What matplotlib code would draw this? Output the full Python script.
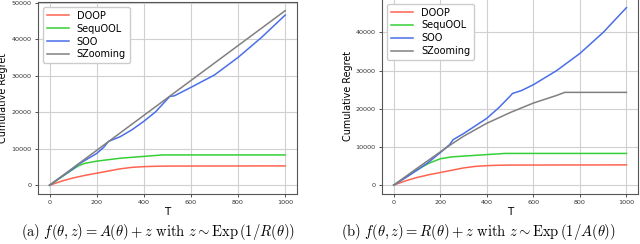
import matplotlib
matplotlib.use("Agg")
import matplotlib.pyplot as plt

plt.rcParams['mathtext.fontset'] = 'cm'

# Panel (a)
a_doop_t = [0, 50, 100, 150, 200, 250, 300, 350, 400, 450, 500, 1000]
a_doop_v = [0, 1100, 2000, 2700, 3300, 3900, 4500, 4900, 5100, 5200, 5250, 5300]
a_seq_t = [0, 50, 100, 125, 150, 200, 250, 300, 400, 480, 1000]
a_seq_v = [0, 2200, 4400, 5400, 6000, 6600, 7000, 7400, 7900, 8300, 8300]
a_soo_t = [0, 50, 100, 125, 150, 200, 230, 250, 300, 350, 400, 450, 500, 510, 530, 600, 700, 800, 900, 1000]
a_soo_v = [0, 2300, 4500, 5800, 6800, 8700, 10400, 12000, 13300, 15200, 17500, 20100, 23600, 24300, 24500, 26800, 30200, 35000, 40500, 46600]
a_sz_t = [0, 1000]
a_sz_v = [0, 47800]

# Panel (b)
b_doop_t = [0, 50, 100, 150, 200, 250, 300, 350, 400, 450, 500, 1000]
b_doop_v = [0, 1100, 2000, 2700, 3300, 3900, 4500, 4900, 5100, 5200, 5250, 5300]
b_seq_t = [0, 50, 100, 150, 200, 250, 300, 400, 480, 1000]
b_seq_v = [0, 2000, 4000, 5700, 6900, 7400, 7600, 8000, 8300, 8300]
b_soo_t = [0, 50, 100, 150, 200, 240, 255, 300, 400, 450, 500, 510, 550, 600, 700, 800, 900, 1000]
b_soo_v = [0, 1900, 3900, 6000, 8500, 10600, 11900, 13500, 17500, 20200, 23300, 24000, 24800, 26300, 30000, 34500, 40000, 46500]
b_sz_t = [0, 100, 200, 250, 300, 400, 500, 600, 700, 735, 1000]
b_sz_v = [0, 4400, 8700, 10800, 12800, 16200, 19000, 21500, 23500, 24300, 24300]

labels = ["DOOP", "SequOOL", "SOO", "SZooming"]
colors = ["#ff6350", "#35d035", "#4a6ee8", "#808080"]

captions = [r"$\mathrm{(a)}\ f(\theta, z) = A(\theta) + z\ \mathrm{with}\ z \sim \mathrm{Exp}\,(1/R(\theta))$",
            r"$\mathrm{(b)}\ f(\theta, z) = R(\theta) + z\ \mathrm{with}\ z \sim \mathrm{Exp}\,(1/A(\theta))$"]

fig = plt.figure(figsize=(6.4, 2.44), dpi=100)
positions = [[0.059, 0.205, 0.405, 0.787], [0.597, 0.205, 0.400, 0.80]]
panels = [
    [(a_doop_t, a_doop_v), (a_seq_t, a_seq_v), (a_soo_t, a_soo_v), (a_sz_t, a_sz_v)],
    [(b_doop_t, b_doop_v), (b_seq_t, b_seq_v), (b_soo_t, b_soo_v), (b_sz_t, b_sz_v)],
]
for i, (pos, series) in enumerate(zip(positions, panels)):
    ax = fig.add_axes(pos)
    for (t, v), lab, c in zip(series, labels, colors):
        ax.plot(t, v, color=c, lw=1.1, label=lab)
    ax.grid(True, color="#d0d0d0", lw=0.8)
    ax.set_axisbelow(True)
    ax.set_xticks([0, 200, 400, 600, 800, 1000])
    ax.tick_params(labelsize=4.6, length=2.5, width=0.6, pad=2, colors="#333333")
    for s in ax.spines.values():
        s.set_color("#555555")
        s.set_linewidth(0.8)
    ax.set_xlabel("T", fontsize=7.5, labelpad=1)
    ax.set_ylabel("Cumulative Regret", fontsize=6.9)
    ax.yaxis.set_label_coords(-0.113, 0.5)
    ax.legend(loc="upper left", fontsize=7, handlelength=2.3, labelspacing=0.3,
              borderpad=0.4, framealpha=1.0, edgecolor="#cccccc")
    fig.text(0.2475 if i == 0 else 0.748, 0.049, captions[i], ha="center", va="center", fontsize=10.5)

fig.savefig("out.png", dpi=100)
